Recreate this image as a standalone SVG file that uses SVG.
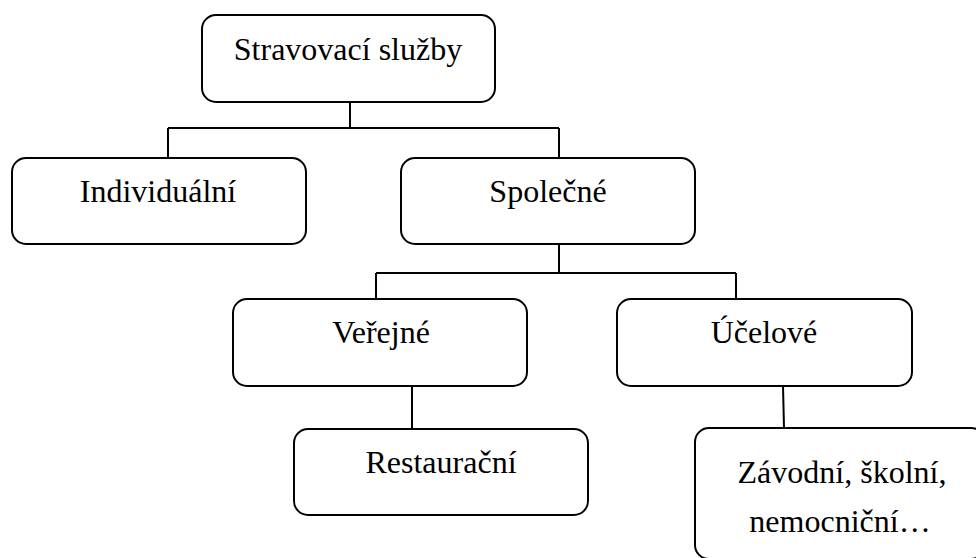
<svg xmlns="http://www.w3.org/2000/svg" width="976" height="558" viewBox="0 0 976 558">
  <style>
    .box { fill: #ffffff; stroke: #000000; stroke-width: 2; }
    .lbl { font-family: "Liberation Serif", "Times New Roman", serif; font-size: 32px; fill: #000000; text-anchor: middle; }
    .conn { fill: none; stroke: #000000; stroke-width: 2; }
  </style>
  <rect width="976" height="558" fill="#ffffff"/>

  <g id="connectors">
    <path class="conn" d="M350 102 V128 M168 128 H559 M168 128 V158 M559 128 V158"/>
    <path class="conn" d="M559 244 V273 M376 273 H736 M376 273 V299 M736 273 V299"/>
    <path class="conn" d="M412 386 V429"/>
    <path class="conn" d="M783 386 L784 428"/>
  </g>

  <g id="stravovaci-sluzby">
    <rect class="box" x="202" y="15" width="293" height="87" rx="14"/>
    <text class="lbl" x="348" y="60">Stravovací služby</text>
  </g>

  <g id="individualni">
    <rect class="box" x="12" y="158" width="294" height="86" rx="14"/>
    <text class="lbl" x="158" y="202">Individuální</text>
  </g>

  <g id="spolecne">
    <rect class="box" x="401" y="158" width="294" height="86" rx="14"/>
    <text class="lbl" x="548" y="202">Společné</text>
  </g>

  <g id="verejne">
    <rect class="box" x="233" y="299" width="294" height="87" rx="14"/>
    <text class="lbl" x="381" y="343">Veřejné</text>
  </g>

  <g id="ucelove">
    <rect class="box" x="617" y="299" width="295" height="87" rx="14"/>
    <text class="lbl" x="764" y="343">Účelové</text>
  </g>

  <g id="restauracni">
    <rect class="box" x="294" y="429" width="294" height="86" rx="14"/>
    <text class="lbl" x="441" y="473">Restaurační</text>
  </g>

  <g id="zavodni">
    <rect class="box" x="695" y="428" width="290" height="131" rx="14"/>
    <text class="lbl" x="842" y="483">Závodní, školní,</text>
    <text class="lbl" x="840" y="532">nemocniční…</text>
  </g>
</svg>
